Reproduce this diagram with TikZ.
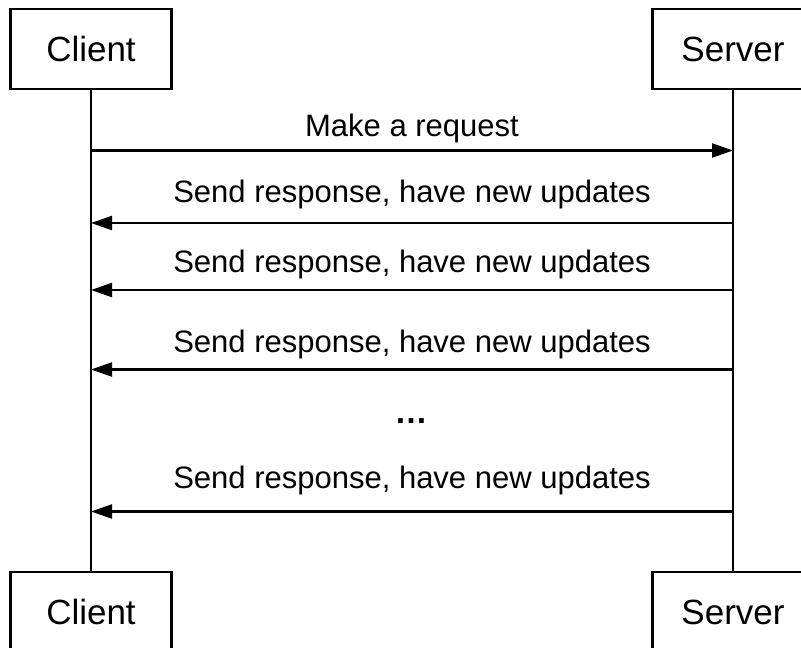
\documentclass[tikz,border=0pt]{standalone}
\usepackage{fontspec}
\setmainfont{Liberation Sans}
\usetikzlibrary{arrows.meta}
\begin{document}
\begin{tikzpicture}[x=1bp,y=-1bp,
  actor/.style={draw,line width=2.1bp,minimum width=161bp,minimum height=80bp,inner sep=0pt,font=\fontsize{35bp}{40bp}\selectfont},
  lifeline/.style={line width=2.1bp},
  msg/.style={line width=2.1bp,-{Triangle[length=21bp,width=14bp]}},
  msglabel/.style={anchor=base,inner sep=0pt,font=\fontsize{31bp}{36bp}\selectfont},
  dotslabel/.style={anchor=base,inner sep=0pt,font=\fontsize{33bp}{38bp}\selectfont\bfseries}]
\useasboundingbox (0,0) rectangle (801,648);
\clip (0,0) rectangle (801,648);
\fill[white] (0,0) rectangle (801,648);

% actors
\node[actor] (ct) at (91,49) {Client};
\node[actor] (st) at (733,49) {Server};
\node[actor] (cb) at (91,612) {Client};
\node[actor] (sb) at (733,612) {Server};

% lifelines
\draw[lifeline] (ct.south) -- (cb.north);
\draw[lifeline] (st.south) -- (sb.north);

% message end points
\coordinate (c1) at (91,150.5);  \coordinate (s1) at (733,150.5);
\coordinate (c2) at (91,223);    \coordinate (s2) at (733,223);
\coordinate (c3) at (91,290);    \coordinate (s3) at (733,290);
\coordinate (c4) at (91,369.5);  \coordinate (s4) at (733,369.5);
\coordinate (c5) at (91,511.5);  \coordinate (s5) at (733,511.5);

% messages
\draw[msg] (c1) -- (s1);
\draw[msg] (s2) -- (c2);
\draw[msg] (s3) -- (c3);
\draw[msg] (s4) -- (c4);
\draw[msg] (s5) -- (c5);

% labels
\node[msglabel] (l1) at (412,137) {Make a request};
\node[msglabel] (l2) at (412,203) {Send response, have new updates};
\node[msglabel] (l3) at (412,272) {Send response, have new updates};
\node[msglabel] (l4) at (412,352) {Send response, have new updates};
\node[dotslabel] (dots) at (411,423) {…};
\node[msglabel] (l5) at (412,488) {Send response, have new updates};
\end{tikzpicture}
\end{document}
